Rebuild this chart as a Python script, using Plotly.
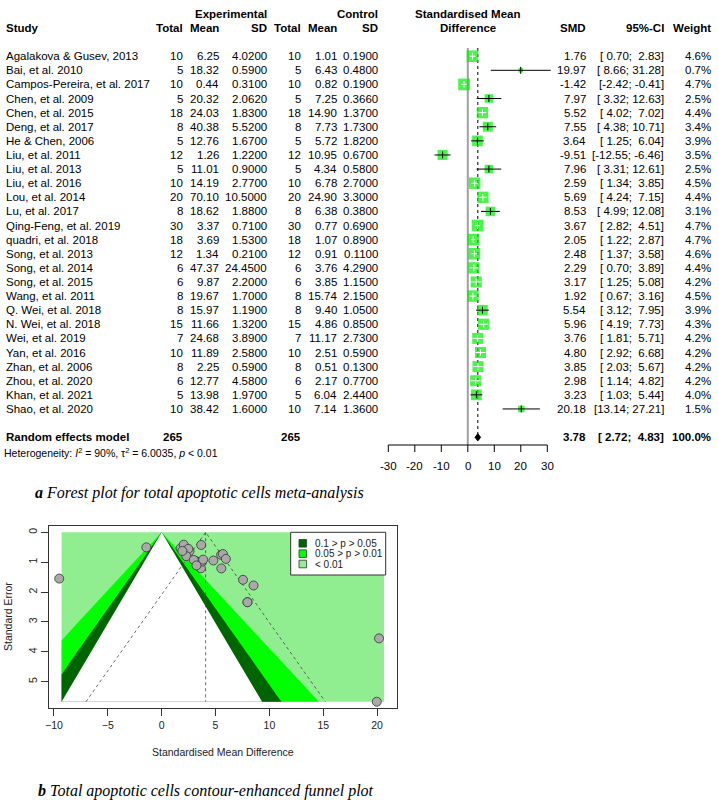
import numpy as np
import plotly.graph_objects as go

W, H = 719, 800

# ---- forest plot data ----
studies = ["Agalakova & Gusev, 2013", "Bai, et al. 2010", "Campos-Pereira, et al. 2017",
           "Chen, et al. 2009", "Chen, et al. 2015", "Deng, et al. 2017", "He & Chen, 2006",
           "Liu, et al. 2011", "Liu, et al. 2013", "Liu, et al. 2016", "Lou, et al. 2014",
           "Lu, et al. 2017", "Qing-Feng, et al. 2019", "quadri, et al. 2018", "Song, et al. 2013",
           "Song, et al. 2014", "Song, et al. 2015", "Wang, et al. 2011", "Q. Wei, et al. 2018",
           "N. Wei, et al. 2018", "Wei, et al. 2019", "Yan, et al. 2016", "Zhan, et al. 2006",
           "Zhou, et al. 2020", "Khan, et al. 2021", "Shao, et al. 2020"]
exp_n = [10, 5, 10, 5, 18, 8, 5, 12, 5, 10, 20, 8, 30, 18, 12, 6, 6, 8, 8, 15, 7, 10, 8, 6, 5, 10]
exp_mean = [6.25, 18.32, 0.44, 20.32, 24.03, 40.38, 12.76, 1.26, 11.01, 14.19, 70.10, 18.62, 3.37,
            3.69, 1.34, 47.37, 9.87, 19.67, 15.97, 11.66, 24.68, 11.89, 2.25, 12.77, 13.98, 38.42]
exp_sd = [4.02, 0.59, 0.31, 2.062, 1.83, 5.52, 1.67, 1.22, 0.90, 2.77, 10.5, 1.88, 0.71,
          1.53, 0.21, 24.45, 2.20, 1.70, 1.19, 1.32, 3.89, 2.58, 0.59, 4.58, 1.97, 1.60]
ctl_n = [10, 5, 10, 5, 18, 8, 5, 12, 5, 10, 20, 8, 30, 18, 12, 6, 6, 8, 8, 15, 7, 10, 8, 6, 5, 10]
ctl_mean = [1.01, 6.43, 0.82, 7.25, 14.90, 7.73, 5.72, 10.95, 4.34, 6.78, 24.90, 6.38, 0.77,
            1.07, 0.91, 3.76, 3.85, 15.74, 9.40, 4.86, 11.17, 2.51, 0.51, 2.17, 6.04, 7.14]
ctl_sd = [0.19, 0.48, 0.19, 0.366, 1.37, 1.73, 1.82, 0.67, 0.58, 2.70, 3.30, 0.38, 0.69,
          0.89, 0.11, 4.29, 1.15, 2.15, 1.05, 0.85, 2.73, 0.59, 0.13, 0.77, 2.44, 1.36]
smd = [1.76, 19.97, -1.42, 7.97, 5.52, 7.55, 3.64, -9.51, 7.96, 2.59, 5.69, 8.53, 3.67,
       2.05, 2.48, 2.29, 3.17, 1.92, 5.54, 5.96, 3.76, 4.80, 3.85, 2.98, 3.23, 20.18]
ci_lo = [0.70, 8.66, -2.42, 3.32, 4.02, 4.38, 1.25, -12.55, 3.31, 1.34, 4.24, 4.99, 2.82,
         1.22, 1.37, 0.70, 1.25, 0.67, 3.12, 4.19, 1.81, 2.92, 2.03, 1.14, 1.03, 13.14]
ci_hi = [2.83, 31.28, -0.41, 12.63, 7.02, 10.71, 6.04, -6.46, 12.61, 3.85, 7.15, 12.08, 4.51,
         2.87, 3.58, 3.89, 5.08, 3.16, 7.95, 7.73, 5.71, 6.68, 5.67, 4.82, 5.44, 27.21]
weight = [4.6, 0.7, 4.7, 2.5, 4.4, 3.4, 3.9, 3.5, 2.5, 4.5, 4.4, 3.1, 4.7, 4.7, 4.6, 4.4, 4.2,
          4.5, 3.9, 4.3, 4.2, 4.2, 4.2, 4.2, 4.0, 1.5]
pooled = 3.78
pooled_lo, pooled_hi = 2.72, 4.83
forest_ticks = [-30, -20, -10, 0, 10, 20, 30]
het_text = "Heterogeneity: <i>I</i><sup>2</sup> = 90%, τ<sup>2</sup> = 6.0035, <i>p</i> &lt; 0.01"

se = [0.535, 5.67, 0.505, 2.34, 0.755, 1.59, 1.205, 1.55, 2.34, 0.63, 0.73, 1.78, 0.425,
      0.415, 0.555, 0.80, 0.96, 0.625, 1.21, 0.89, 0.98, 0.945, 0.915, 0.925, 1.11, 3.55]
funnel_center = 4.08
shade_xlim = [-9.29, 20.64]
z_levels = [1.645, 1.96, 2.576]
contour_labels = ["0.1 > p > 0.05", "0.05 > p > 0.01", "< 0.01"]
contour_colors = ["#006400", "#00FF00", "#90EE90"]
funnel_xticks = [-10, -5, 0, 5, 10, 15, 20]
funnel_yticks = [0, 1, 2, 3, 4, 5]

# ---- page geometry (pixels) ----
row0, row_h = 56.2, 14.11
rows = [row0 + i * row_h for i in range(len(studies))]
y_pool, y_het, y_axis, y_ticklab = 437.3, 452.3, 445, 466
f_x0, f_ppu = 467.8, 2.65
f_range = [-32, 32]
f_bottom = 470
SANS = "Liberation Sans"
SERIF = "Liberation Serif"

fig = go.Figure()
ann = []


def txt(x, y, s, anchor="right", size=11.5, bold=False, font=SANS, color="black", xref="paper", **kw):
    if bold:
        s = "<b>" + s + "</b>"
    ann.append(dict(x=x / W if xref == "paper" else x, y=1 - y / H, xref=xref, yref="paper",
                    text=s, showarrow=False, xanchor=anchor, yanchor="middle",
                    borderpad=0, borderwidth=0,
                    font=dict(family=font, size=size, color=color), **kw))


# reference lines
fig.add_trace(go.Scatter(x=[0, 0], y=[48, y_axis], mode="lines",
                         line=dict(color="#a0a0a0", width=2), xaxis="x", yaxis="y"))
fig.add_trace(go.Scatter(x=[pooled, pooled], y=[48, y_pool], mode="lines",
                         line=dict(color="black", width=1, dash="dot"), xaxis="x", yaxis="y"))

# squares
sides = [5.4 * np.sqrt(w) for w in weight]
fig.add_trace(go.Scatter(x=smd, y=rows, mode="markers", xaxis="x", yaxis="y",
                         marker=dict(symbol="square", size=sides, color="#00ee00", line_width=0)))

# CI lines (white where inside the square)
inside = [(h - l) * f_ppu < s for l, h, s in zip(ci_lo, ci_hi, sides)]
for col, flag in (("black", False), ("white", True)):
    xs, ys = [], []
    for l, h, y, ins in zip(ci_lo, ci_hi, rows, inside):
        if ins == flag:
            xs += [l, h, None]
            ys += [y, y, None]
    fig.add_trace(go.Scatter(x=xs, y=ys, mode="lines", line=dict(color=col, width=1),
                             xaxis="x", yaxis="y"))
fig.add_trace(go.Scatter(x=smd, y=rows, mode="markers", xaxis="x", yaxis="y",
                         marker=dict(symbol="line-ns", size=5,
                                     line=dict(width=1, color=["white" if i else "black" for i in inside]))))

# pooled diamond
fig.add_trace(go.Scatter(x=[pooled_lo, pooled, pooled_hi, pooled, pooled_lo],
                         y=[y_pool, y_pool - 3.6, y_pool, y_pool + 3.6, y_pool],
                         mode="lines", fill="toself", fillcolor="black",
                         line=dict(color="black", width=1), xaxis="x", yaxis="y"))

# forest axis: line from first to last tick, tick marks hanging below, labels under them
ax_x, ax_y = [forest_ticks[0], forest_ticks[-1], None], [y_axis, y_axis, None]
for t in forest_ticks:
    ax_x += [t, t, None]
    ax_y += [y_axis, y_axis + 7, None]
fig.add_trace(go.Scatter(x=ax_x, y=ax_y, mode="lines", line=dict(color="black", width=1),
                         xaxis="x", yaxis="y"))
for t in forest_ticks:
    txt(t, y_ticklab, str(t), anchor="center", xref="x")

# table text
txt(266.7, 14, "Experimental", bold=True)
txt(378.3, 14, "Control", bold=True)
txt(f_x0, 14, "Standardised Mean", anchor="center", bold=True)
txt(6, 28.3, "Study", anchor="left", bold=True)
for xr, lab in [(183.3, "Total"), (219, "Mean"), (266.7, "SD"), (301, "Total"), (336.7, "Mean"),
                (378.3, "SD"), (585.7, "SMD"), (664, "95%-CI"), (711, "Weight")]:
    txt(xr, 28.3, lab, bold=True)
txt(f_x0, 28.3, "Difference", anchor="center", bold=True)


def ci_str(l, h):
    return ("[%5.2f; %5.2f]" % (l, h)).replace(" ", "\u00a0")


for i, y in enumerate(rows):
    txt(6, y, studies[i], anchor="left")
    txt(183.3, y, str(exp_n[i]))
    txt(219, y, "%.2f" % exp_mean[i])
    txt(266.7, y, "%.4f" % exp_sd[i])
    txt(301, y, str(ctl_n[i]))
    txt(336.7, y, "%.2f" % ctl_mean[i])
    txt(378.3, y, "%.4f" % ctl_sd[i])
    txt(585.7, y, "%.2f" % smd[i])
    txt(664, y, ci_str(ci_lo[i], ci_hi[i]))
    txt(711, y, "%.1f%%" % weight[i])

txt(6, y_pool, "Random effects model", anchor="left", bold=True)
txt(183.3, y_pool, str(sum(exp_n)), bold=True)
txt(301, y_pool, str(sum(ctl_n)), bold=True)
txt(585.7, y_pool, "%.2f" % pooled, bold=True)
txt(664, y_pool, ci_str(pooled_lo, pooled_hi), bold=True)
txt(711, y_pool, "100.0%", bold=True)
txt(4, y_het, het_text, anchor="left", size=10.5)

txt(35, 492.7, "<b><i>a</i></b><i> Forest plot for total apoptotic cells meta-analysis</i>",
    anchor="left", size=16, font=SERIF)

# ---- funnel plot ----
se_max = max(se)
xmin, xmax = shade_xlim
fig.add_trace(go.Scatter(x=[xmin, xmax, xmax, xmin, xmin], y=[0, 0, se_max, se_max, 0],
                         mode="lines", fill="toself", fillcolor=contour_colors[2],
                         line=dict(width=0), xaxis="x2", yaxis="y2"))
se_grid = np.linspace(0, se_max, 400)
for z, col in zip(z_levels[::-1], [contour_colors[1], contour_colors[0], "white"]):
    left = np.maximum(-z * se_grid, xmin)
    right = np.minimum(z * se_grid, xmax)
    fig.add_trace(go.Scatter(x=np.concatenate([left, right[::-1]]),
                             y=np.concatenate([se_grid, se_grid[::-1]]),
                             mode="lines", fill="toself", fillcolor=col, line=dict(width=0),
                             xaxis="x2", yaxis="y2"))

fig.add_trace(go.Scatter(x=[funnel_center - 1.96 * se_max, funnel_center, funnel_center + 1.96 * se_max,
                            None, funnel_center, funnel_center],
                         y=[se_max, 0, se_max, None, 0, se_max], mode="lines",
                         line=dict(color="#444", width=0.8, dash="dot"), xaxis="x2", yaxis="y2"))

fig.add_trace(go.Scatter(x=smd, y=se, mode="markers", xaxis="x2", yaxis="y2",
                         marker=dict(size=9, color="#a9a9a9", line=dict(color="#333", width=0.8))))

# funnel legend (drawn by hand to match R's box legend)
shapes = [dict(type="rect", xref="paper", yref="paper", x0=290.7 / W, x1=385.7 / W,
               y0=1 - 575 / H, y1=1 - 532.3 / H, fillcolor="white",
               line=dict(color="#333", width=1), layer="above")]
for k, (lab, col) in enumerate(zip(contour_labels, contour_colors)):
    yy = 543.3 + k * 10.35
    shapes.append(dict(type="rect", xref="paper", yref="paper", x0=299 / W, x1=306.6 / W,
                       y0=1 - (yy + 3.8) / H, y1=1 - (yy - 3.8) / H, fillcolor=col,
                       line=dict(color="#333", width=0.8), layer="above"))
    txt(315, yy, lab, anchor="left", size=10, color="#222")

txt(222.9, 752.3, "Standardised Mean Difference", anchor="center", size=10.5, color="#222")
txt(8, 617, "Standard Error", anchor="center", size=10.5, color="#222", textangle=-90)
txt(37.7, 790.7, "<b><i>b</i></b><i> Total apoptotic cells contour-enhanced funnel plot</i>",
    anchor="left", size=16, font=SERIF)

fig.update_layout(
    width=W, height=H, autosize=False, margin=dict(l=0, r=0, t=0, b=0),
    paper_bgcolor="white", plot_bgcolor="white", showlegend=False,
    font=dict(family=SANS, color="black"),
    # forest: x in SMD units, y in page pixels
    xaxis=dict(domain=[(f_x0 + f_range[0] * f_ppu) / W, (f_x0 + f_range[1] * f_ppu) / W],
               range=f_range, anchor="y", visible=False, automargin=False),
    yaxis=dict(domain=[1 - f_bottom / H, 1], range=[f_bottom, 0], visible=False,
               automargin=False),
    xaxis2=dict(domain=[49 / W, 396.7 / W], range=[-10.46, 21.82], anchor="y2",
                showline=True, mirror=True, linecolor="#333", linewidth=1, automargin=False,
                showgrid=False, zeroline=False, ticks="outside", ticklen=7, tickcolor="#333",
                tickvals=funnel_xticks, tickfont=dict(size=10.5, color="#222")),
    yaxis2=dict(domain=[1 - 708.3 / H, 1 - 526 / H], range=[5.89, -0.21], anchor="x2",
                showline=True, mirror=True, linecolor="#333", linewidth=1, automargin=False,
                showgrid=False, zeroline=False, ticks="outside", ticklen=7, tickcolor="#333",
                tickvals=funnel_yticks, tickangle=-90, tickfont=dict(size=10.5, color="#222")),
    annotations=ann, shapes=shapes,
)

# the page body has a default 8px margin; drop it so the figure fills the window
fig.write_html("out.html", config={"displayModeBar": False},
               post_script="document.body.style.margin='0';")
